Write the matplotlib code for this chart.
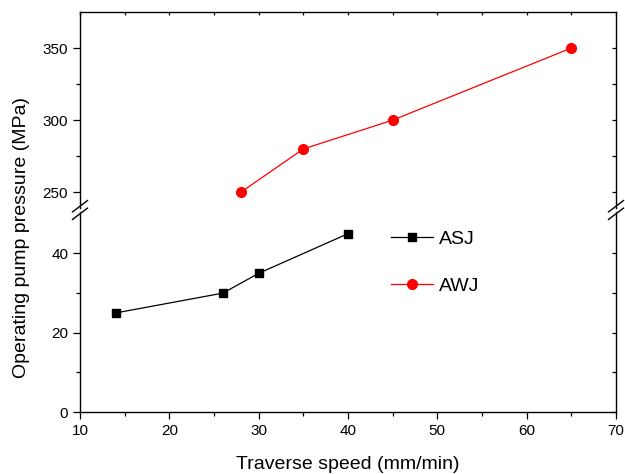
import matplotlib.pyplot as plt

plt.rcParams['font.family'] = ['Liberation Sans', 'DejaVu Sans']

asj_speed = [14, 26, 30, 40]
asj_pressure = [25, 30, 35, 45]
awj_speed = [28, 35, 45, 65]
awj_pressure = [250, 280, 300, 350]

fig = plt.figure(figsize=(6.25, 4.74), dpi=100)
left, right = 0.128, 0.9856
bottom, top = 0.1308, 0.9747
brk = 0.557
gap = 0.008
ax_hi = fig.add_axes([left, brk + gap / 2, right - left, top - brk - gap / 2])
ax_lo = fig.add_axes([left, bottom, right - left, brk - gap / 2 - bottom])

l1, = ax_lo.plot(asj_speed, asj_pressure, color='black', lw=0.9, marker='s',
                 markersize=6, label='ASJ')
l2, = ax_hi.plot(awj_speed, awj_pressure, color='red', lw=0.9, marker='o',
                 markersize=7, label='AWJ')

for ax in (ax_hi, ax_lo):
    ax.set_xlim(10, 70)
    ax.set_xticks(range(10, 71, 10))
    ax.set_xticks(range(15, 70, 10), minor=True)
    ax.tick_params(axis='both', which='major', direction='out', length=5,
                   labelsize=11, width=0.9)
    ax.tick_params(axis='both', which='minor', direction='out', length=3,
                   width=0.9)
    ax.tick_params(axis='y', which='both', right=True, labelright=False)
    ax.tick_params(axis='x', which='both', top=True)
    for s in ax.spines.values():
        s.set_linewidth(1.0)

ax_hi.set_ylim(239, 375)
ax_hi.set_yticks([250, 300, 350])
ax_hi.set_yticks([275, 325], minor=True)
ax_hi.spines['bottom'].set_visible(False)
ax_hi.tick_params(axis='x', which='both', bottom=False, labelbottom=False)
ax_hi.tick_params(axis='x', which='both', direction='in', length=2)
ax_hi.tick_params(axis='y', which='both', right=True)

ax_lo.set_ylim(0, 50.5)
ax_lo.set_yticks([0, 20, 40])
ax_lo.set_yticks([10, 30], minor=True)
ax_lo.spines['top'].set_visible(False)
ax_lo.tick_params(axis='x', which='both', top=False)

# right-side ticks point inward
for ax in (ax_hi, ax_lo):
    for t in ax.yaxis.get_major_ticks() + ax.yaxis.get_minor_ticks():
        t.tick2line.set_marker(0)
        t.tick2line.set_markersize(3)

# break marks
yb = 1 - 210 / 474
for xf in (left, right):
    for dy in (-0.008, 0.008):
        fig.add_artist(plt.Line2D([xf - 0.012, xf + 0.012],
                                  [yb + dy - 0.012, yb + dy + 0.012],
                                  color='black', lw=1.0, transform=fig.transFigure))

ax_lo.set_xlabel('Traverse speed (mm/min)', fontsize=14, labelpad=13)
fig.text(0.035, 0.5, 'Operating pump pressure (MPa)', rotation=90,
         fontsize=14, va='center', ha='center')

ax_lo.legend([l1, l2], ['ASJ', 'AWJ'], loc='upper left',
             bbox_to_anchor=(0.547, 0.995), frameon=False, fontsize=14,
             handlelength=2.2, labelspacing=1.5, handletextpad=0.3)

fig.savefig('out.png', dpi=100)
